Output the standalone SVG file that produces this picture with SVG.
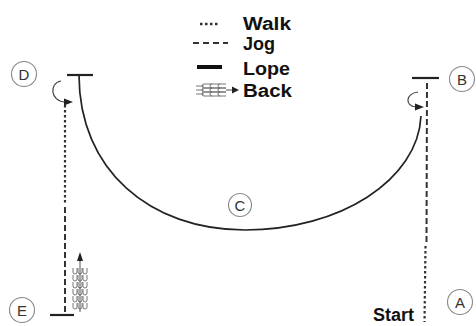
<svg xmlns="http://www.w3.org/2000/svg" width="476" height="326" viewBox="0 0 476 326">
<style>
.lbl{font-family:"Liberation Sans",Arial,sans-serif;font-weight:bold;font-size:18px;fill:#111}
.circ{fill:#fff;stroke:#888;stroke-width:1.1}
.ct{font-family:"Liberation Sans",Arial,sans-serif;font-size:15px;fill:#333;text-anchor:middle}
.ln{fill:none;stroke:#222;stroke-width:1.7}
.dash{fill:none;stroke:#333;stroke-width:2;stroke-dasharray:6 3}
.dot{fill:none;stroke:#333;stroke-width:2.2;stroke-dasharray:2.5 2.5}
.bar{stroke:#222;stroke-width:2.2}
.back{fill:none;stroke:#666;stroke-width:0.9}
.head{fill:#222}
</style>
<rect width="476" height="326" fill="#fff"/>
<g id="legend">
<line x1="200" y1="24" x2="218" y2="24" class="dot" style="stroke-width:2.6"/>
<text class="lbl" x="243" y="30" textLength="48" lengthAdjust="spacingAndGlyphs">Walk</text>
<line x1="193" y1="43" x2="228" y2="43" class="dash" style="stroke-dasharray:6 4"/>
<text class="lbl" x="243" y="50">Jog</text>
<line x1="197" y1="67" x2="222" y2="67" stroke="#111" stroke-width="4"/>
<text class="lbl" x="243" y="75" textLength="47" lengthAdjust="spacingAndGlyphs">Lope</text>
<path class="back" d="M226,84 h-22 a2,2 0 0 0 0,4 h22 M226,88 h-22 a2,2 0 0 0 0,4 h22 M226,92 h-22 a2,2 0 0 0 0,4 h22 M212,84 a2,2 0 0 0 0,4 M212,88 a2,2 0 0 0 0,4 M212,92 a2,2 0 0 0 0,4 M220,84 a2,2 0 0 0 0,4 M220,88 a2,2 0 0 0 0,4 M220,92 a2,2 0 0 0 0,4 M196,86 h8 M196,90 h8 M196,94 h8"/>
<line x1="226" y1="90" x2="233" y2="90" stroke="#555" stroke-width="1"/>
<polygon class="head" points="232,86.5 239,90 232,93.5"/>
<text class="lbl" x="243" y="97" textLength="49" lengthAdjust="spacingAndGlyphs">Back</text>
</g>
<g id="connectors">
<path id="arcC" class="ln" d="M79,75 C79,170 150,230 245,230 C340,230 418,180 421,116"/>
<line class="dash" x1="427" y1="83" x2="426.5" y2="245"/>
<line class="dot" x1="425.5" y1="246" x2="424.5" y2="322"/>
<line class="dot" x1="65" y1="105" x2="65" y2="205"/>
<line class="dash" x1="65" y1="207" x2="65" y2="313"/>
<path class="ln" style="stroke:#444;stroke-width:1.2" d="M61,81 C49,83 50,101 65,102"/>
<polygon class="head" points="64,98.5 73,102 64,105.5"/>
<path class="ln" style="stroke:#444;stroke-width:1.2" d="M418,92 C406,93 404,106 416,107"/>
<polygon class="head" points="415,103.5 424,107 415,110.5"/>
<path class="back" d="M73,268 v4 a2,2 0 0 0 4,0 v-4 M73,275 v4 a2,2 0 0 0 4,0 v-4 M73,282 v4 a2,2 0 0 0 4,0 v-4 M73,289 v4 a2,2 0 0 0 4,0 v-4 M73,296 v4 a2,2 0 0 0 4,0 v-4 M73,303 v4 a2,2 0 0 0 4,0 v-4 M83,268 v4 a2,2 0 0 0 4,0 v-4 M83,275 v4 a2,2 0 0 0 4,0 v-4 M83,282 v4 a2,2 0 0 0 4,0 v-4 M83,289 v4 a2,2 0 0 0 4,0 v-4 M83,296 v4 a2,2 0 0 0 4,0 v-4 M83,303 v4 a2,2 0 0 0 4,0 v-4 M78,268 v4 a2,2 0 0 0 4,0 v-4 M78,275 v4 a2,2 0 0 0 4,0 v-4 M78,282 v4 a2,2 0 0 0 4,0 v-4 M78,289 v4 a2,2 0 0 0 4,0 v-4 M78,296 v4 a2,2 0 0 0 4,0 v-4 M78,303 v4 a2,2 0 0 0 4,0 v-4"/>
<line x1="80" y1="312" x2="80" y2="259" stroke="#555" stroke-width="1"/>
<polygon class="head" points="77,261 80,252 83,261"/>
</g>
<g id="nodeD">
<line class="bar" x1="67" y1="75" x2="93" y2="75"/>
<circle class="circ" cx="24" cy="74" r="12.5"/>
<text class="ct" x="24" y="79.5">D</text>
</g>
<g id="nodeB">
<line class="bar" x1="412" y1="78" x2="439" y2="78"/>
<circle class="circ" cx="462" cy="79" r="12.5"/>
<text class="ct" x="462" y="84.5">B</text>
</g>
<g id="nodeC">
<circle class="circ" cx="240" cy="205" r="11.5"/>
<text class="ct" x="240" y="210.5">C</text>
</g>
<g id="nodeE">
<line class="bar" x1="50" y1="315" x2="74" y2="315"/>
<circle class="circ" cx="22" cy="310" r="12.5"/>
<text class="ct" x="22" y="315.5">E</text>
</g>
<g id="nodeA">
<circle class="circ" cx="460" cy="302" r="12.5"/>
<text class="ct" x="460" y="307.5">A</text>
<text class="lbl" x="373" y="321">Start</text>
</g>
</svg>
